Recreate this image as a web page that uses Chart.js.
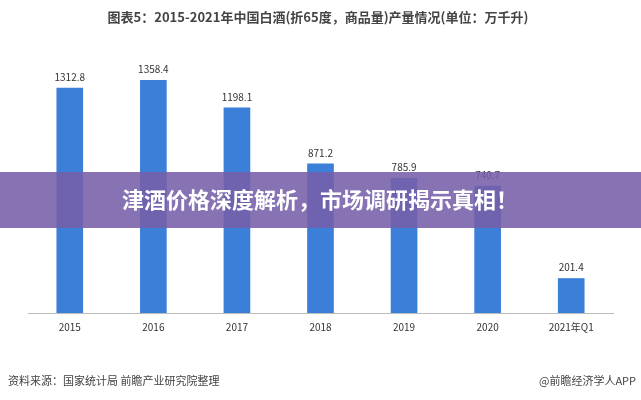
<!DOCTYPE html>
<html><head><meta charset="utf-8">
<script src="https://cdn.jsdelivr.net/npm/chart.js@4"></script>
<style>html,body{margin:0;padding:0;background:#fff}#w{width:641px;height:400px;position:relative}</style>
</head><body><div id="w"><canvas id="c"></canvas></div>
<script>
const categories=['2015','2016','2017','2018','2019','2020','2021年Q1'];
const values=[1312.8,1358.4,1198.1,871.2,785.9,740.7,201.4];
const titleText='图表5：2015-2021年中国白酒(折65度，商品量)产量情况(单位：万千升)';
const sourceText='资料来源：国家统计局 前瞻产业研究院整理';
const brandText='@前瞻经济学人APP';
const bannerText='津酒价格深度解析，市场调研揭示真相！';
const FONT='"Noto Sans CJK SC", "Noto Sans", sans-serif';
const extras={id:'extras',
 afterDatasetsDraw(ch){
  const c=ch.ctx, m=ch.getDatasetMeta(0);
  c.save();c.fillStyle='#333';c.font='10px '+FONT;c.textAlign='center';c.textBaseline='bottom';
  m.data.forEach((b,i)=>c.fillText(values[i].toFixed(1),b.x,b.y-6));
  c.restore();
 },
 afterDraw(ch){
  const c=ch.ctx;c.save();
  c.fillStyle='#444';c.font='bold 13px '+FONT;c.textAlign='center';c.textBaseline='middle';
  c.fillText(titleText,318,17);
  c.font='11px '+FONT;c.textAlign='left';c.fillStyle='#444';c.fillText(sourceText,8,381);
  c.textAlign='right';c.fillText(brandText,636,381);
  c.fillStyle='rgba(118,96,168,0.88)';c.fillRect(0,172,641,56);
  c.fillStyle='#fff';c.font='bold 22px '+FONT;c.textAlign='center';c.fillText(bannerText,320,200);
  c.restore();
 }};
new Chart(document.getElementById('c'),{type:'bar',
 data:{labels:categories,datasets:[{data:values,backgroundColor:'#3b7fd9',barThickness:26}]},
 options:{responsive:true,maintainAspectRatio:false,animation:false,
  layout:{padding:{left:28,right:28,top:56,bottom:59}},
  plugins:{legend:{display:false},tooltip:{enabled:false}},
  scales:{y:{display:false,min:0,max:1500},
   x:{grid:{display:false,drawTicks:false},border:{color:'#bbb'},ticks:{color:'#333',font:{size:10,family:FONT},padding:8}}}},
 plugins:[extras]});
</script></body></html>
